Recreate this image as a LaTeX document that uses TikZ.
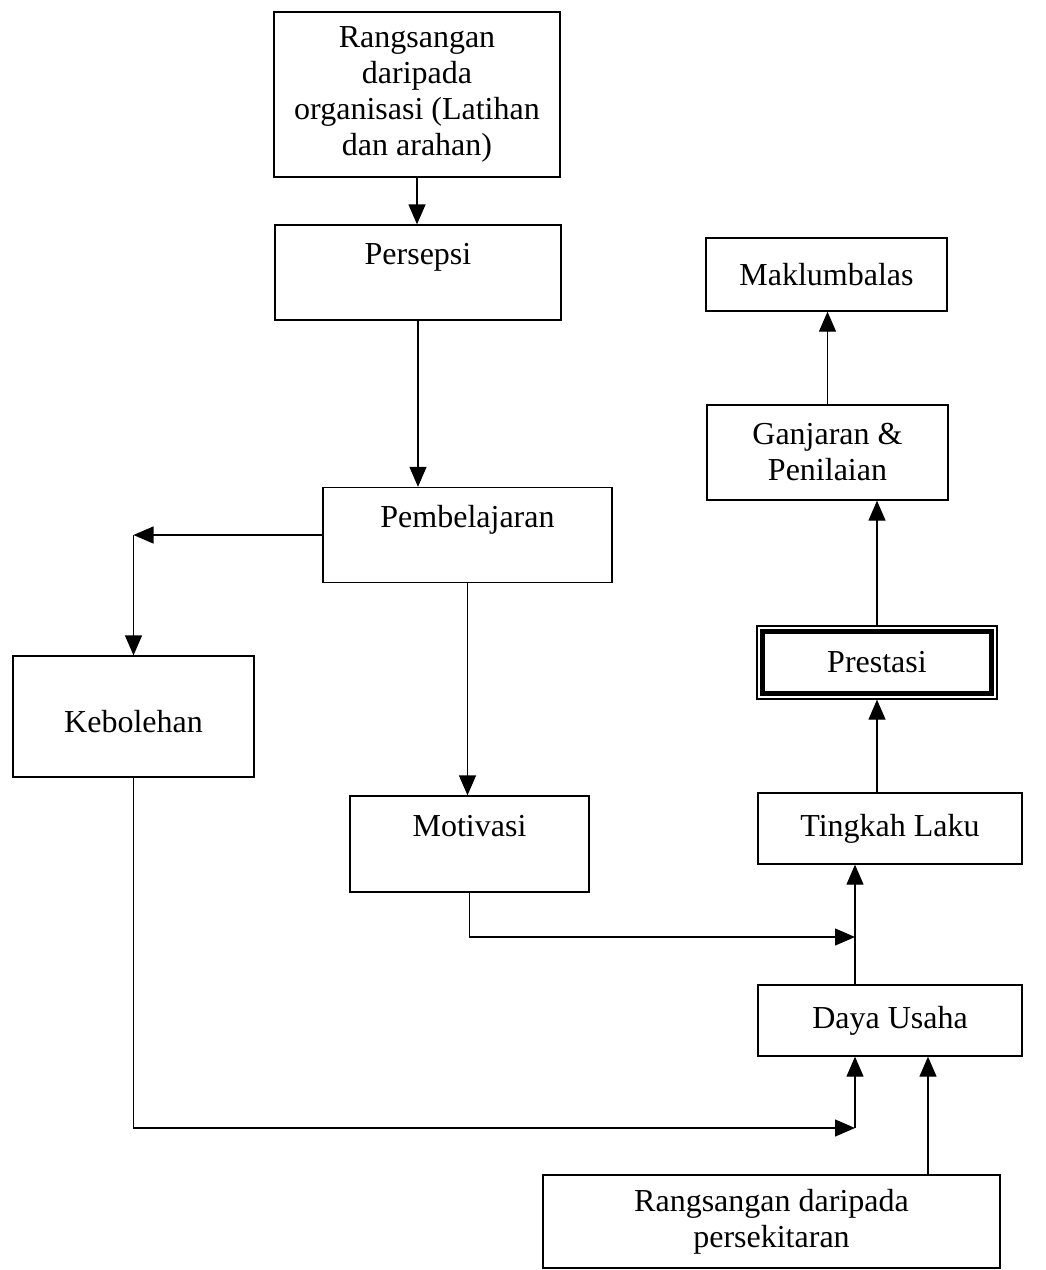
\documentclass[tikz,border=0pt]{standalone}
\usepackage{fontspec}
\setmainfont{Liberation Serif}
\usetikzlibrary{arrows.meta}
\begin{document}
\begin{tikzpicture}[x=1pt,y=-1pt,
  box/.style={draw, line width=1.3pt, align=center, inner sep=0pt, font=\fontsize{32}{36}\selectfont},
  hightext/.style={text depth=37pt},
  arr/.style={line width=1.3pt, -{Triangle[length=20pt,width=17pt]}}]
\useasboundingbox (0,0) rectangle (1046,1270);
\node[box, minimum width=286pt, minimum height=165pt] (org) at (417,94.5) {Rangsangan\\daripada\\organisasi (Latihan\\dan arahan)};
\node[box, hightext, minimum width=286pt, minimum height=95pt] (persepsi) at (418,272.5) {Persepsi};
\node[box, hightext, minimum width=289pt, minimum height=95pt] (pembelajaran) at (467.5,535) {Pembelajaran};
\node[box, text height=33pt, minimum width=241pt, minimum height=121pt] (kebolehan) at (133.5,716.5) {Kebolehan};
\node[box, hightext, minimum width=239pt, minimum height=96pt] (motivasi) at (469.5,844) {Motivasi};
\node[box, minimum width=241pt, minimum height=73pt] (maklumbalas) at (826.5,274.5) {Maklumbalas};
\node[box, minimum width=241pt, minimum height=95pt] (ganjaran) at (827.5,452.5) {Ganjaran \&\\Penilaian};
\node[box, minimum width=240pt, minimum height=73pt] (prestasi) at (877,662.5) {Prestasi};
\draw[line width=5pt] ([shift={(6.5pt,-6.5pt)}]prestasi.north west) rectangle ([shift={(-6.5pt,6.5pt)}]prestasi.south east);
\node[box, minimum width=264pt, minimum height=71pt] (tingkah) at (890,828.5) {Tingkah Laku};
\node[box, minimum width=264pt, minimum height=71pt] (daya) at (890,1020.5) {Daya Usaha};
\node[box, minimum width=457pt, minimum height=93pt] (persekitaran) at (771.5,1221.5) {Rangsangan daripada\\persekitaran};
\coordinate (join1) at (855,937);
\coordinate (join2) at (855,1128);

\draw[arr] (org.south) -- (persepsi.north -| org.south);
\draw[arr] (persepsi.south) -- (persepsi.south |- pembelajaran.north);
\draw[arr] (pembelajaran.west) -- (pembelajaran.west -| kebolehan.north);
\draw[arr] (pembelajaran.west -| kebolehan.north) -- (kebolehan.north);
\draw[arr] (pembelajaran.south) -- (pembelajaran.south |- motivasi.north);
\draw[arr] (motivasi.south) |- (join1);
\draw[arr] (kebolehan.south) |- (join2);
\draw[arr] (join2) -- (join2 |- daya.south);
\draw[arr] ([xshift=38pt]persekitaran.north -| daya.south) -- ([xshift=38pt]daya.south);
\draw[arr] (join2 |- daya.north) -- (join2 |- tingkah.south);
\draw[arr] (tingkah.north -| prestasi.south) -- (prestasi.south);
\draw[arr] (prestasi.north) -- (prestasi.north |- ganjaran.south);
\draw[arr] (ganjaran.north) -- (ganjaran.north |- maklumbalas.south);
\end{tikzpicture}
\end{document}
